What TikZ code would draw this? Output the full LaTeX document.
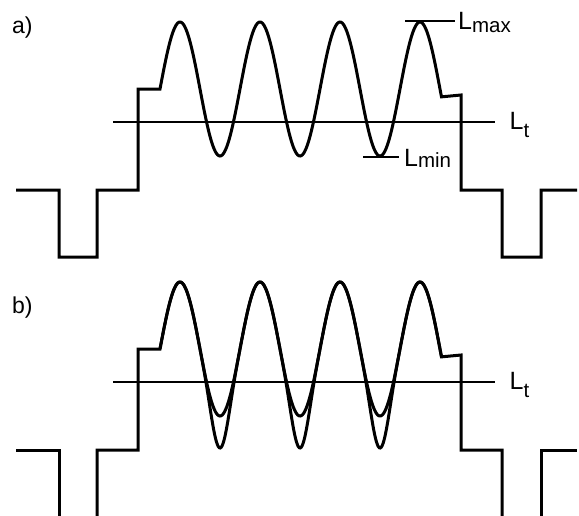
\documentclass[tikz,border=0pt]{standalone}
\usepackage{fontspec}
\setmainfont{Liberation Sans}
\newcommand{\lbl}[2]{L\raisebox{#2}{\fontsize{20.5}{20.5}\selectfont #1}}
\begin{document}
\begin{tikzpicture}[x=1pt,y=-1pt,
  wave/.style={line width=3pt,line join=miter},
  level/.style={line width=2pt},
  txt/.style={inner sep=0pt,anchor=base west,font=\fontsize{23}{23}\selectfont},
  ltxt/.style={inner sep=0pt,anchor=base west,font=\fontsize{25}{25}\selectfont}]
\useasboundingbox (0,0) rectangle (579,515);
% ---------- panel a ----------
\node[txt] (la) at (12,33) {a)};
\draw[wave] (16,190) -- (59,190) -- (59,257) -- (97,257) -- (97,190) -- (138,190) -- (138,89) -- (160,89)
  -- plot[domain=160:441.5,samples=250] (\x,{89-67*sin(4.5*(\x-160))})
  -- (461,95) -- (461,190) -- (502,190) -- (502,257) -- (541,257) -- (541,190) -- (577,190);
\coordinate (lta1) at (113,122);
\coordinate (lta2) at (495,122);
\draw[level] (lta1) -- (lta2);
\node[ltxt] (lta) at (509.5,129.5) {\lbl{t}{-8pt}};
\coordinate (mx1) at (405,21);
\coordinate (mx2) at (455,21);
\draw[level] (mx1) -- (mx2);
\node[ltxt] (lmax) at (458,29) {\lbl{max}{-3pt}};
\coordinate (mn1) at (363,157);
\coordinate (mn2) at (399,157);
\draw[level] (mn1) -- (mn2);
\node[ltxt] (lmin) at (404,166) {\lbl{min}{-1.5pt}};
% ---------- panel b ----------
\node[txt] (lb) at (12,313) {b)};
\draw[wave] (16,450) -- (59,450) -- (59,516);
\draw[wave] (97,516) -- (97,450) -- (138,450) -- (138,349) -- (160,349)
  -- plot[domain=160:441.5,samples=250] (\x,{349-67*sin(4.5*(\x-160))})
  -- (461,355) -- (461,450) -- (502,450) -- (502,516);
\draw[wave] (541,516) -- (541,450) -- (577,450);
\draw[wave] plot[domain=160:441.5,samples=300]
  (\x,{349-67*sin(4.5*(\x-160))+32*max(0,-sin(4.5*(\x-160)))*max(0,-sin(4.5*(\x-160)))*max(0,-sin(4.5*(\x-160)))});
\coordinate (ltb1) at (113,382);
\coordinate (ltb2) at (495,382);
\draw[level] (ltb1) -- (ltb2);
\node[ltxt] (ltb) at (509.5,389.5) {\lbl{t}{-8pt}};
\end{tikzpicture}
\end{document}
